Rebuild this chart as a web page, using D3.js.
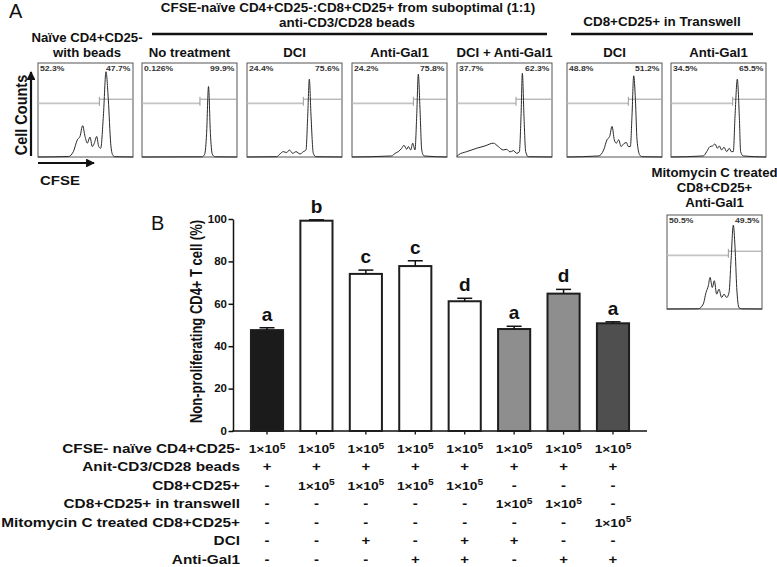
<!DOCTYPE html>
<html>
<head>
<meta charset="utf-8">
<script src="https://cdn.jsdelivr.net/npm/d3@7/dist/d3.min.js"></script>
<style>
html,body{margin:0;padding:0;background:#fff;}
svg{display:block;font-family:"Liberation Sans",Arial,Helvetica,sans-serif;}
</style>
</head>
<body>
<svg id="chart" width="777" height="567"></svg>
<script>
// ---------------- DATA ----------------
// Panel B bar chart
const barGroups = ["Naive + beads","No treatment","DCI","Anti-Gal1","DCI + Anti-Gal1","Transwell DCI","Transwell Anti-Gal1","Mitomycin C + Anti-Gal1"];
const barValues = [47.6, 99.2, 74.1, 77.8, 61.2, 48.1, 64.8, 50.8];
const barErrors = [1.1, 0.4, 1.8, 2.5, 1.4, 1.3, 2.0, 0.7];
const sigLetters = ["a","b","c","c","d","a","d","a"];
const yTicks = [0, 20, 40, 60, 80, 100];
const yLabel = "Non-proliferating CD4+ T cell (%)";

// Panel B condition table ("1e5" = 1×10^5)
const tableRowLabels = ["CFSE- naïve CD4+CD25-","Anit-CD3/CD28 beads","CD8+CD25+","CD8+CD25+ in transwell","Mitomycin C treated CD8+CD25+","DCI","Anti-Gal1"];
const rowNaive      = ["1e5","1e5","1e5","1e5","1e5","1e5","1e5","1e5"];
const rowBeads      = ["+","+","+","+","+","+","+","+"];
const rowCD8        = ["-","1e5","1e5","1e5","1e5","-","-","-"];
const rowTranswell  = ["-","-","-","-","-","1e5","1e5","-"];
const rowMitomycin  = ["-","-","-","-","-","-","-","1e5"];
const rowDCI        = ["-","-","+","-","+","+","-","-"];
const rowAntiGal1   = ["-","-","-","+","+","-","+","+"];
const tableRows = [rowNaive,rowBeads,rowCD8,rowTranswell,rowMitomycin,rowDCI,rowAntiGal1];

// Panel A histograms (CFSE channel 0-100, count 0-100 of panel)
const histTitles = [["Naïve CD4+CD25-","with beads"],["No treatment"],["DCI"],["Anti-Gal1"],["DCI + Anti-Gal1"],["DCI"],["Anti-Gal1"],["Mitomycin C treated","CD8+CD25+","Anti-Gal1"]];
const histLeftPct  = ["52.3%","0.126%","24.4%","24.2%","37.7%","48.8%","34.5%","50.5%"];
const histRightPct = ["47.7%","99.9%","75.6%","75.8%","62.3%","51.2%","65.5%","49.5%"];
const histGate = [64.6, 61.0, 59.3, 64.6, 62.1, 64.6, 64.9, 64.6];
const histNaive = [[0,0],[31.9,0.5],[37.2,5.7],[41.4,18.3],[44.2,21.9],[47,33.3],[49.5,21.9],[51.9,14.7],[54.7,21.2],[57.2,11.1],[59.3,14.7],[61.8,21.9],[63.9,11.1],[66,9.3],[68.8,43.4],[71.6,90.7],[74,61.3],[76.5,14.7],[78.6,2.2],[81,0.3],[100,0]];
const histNoTreat = [[0,0],[63,0.2],[66,3],[68,25],[70,75],[72,25],[74,3],[77,0.2],[100,0]];
const histDCI = [[0,0],[31.2,0.3],[34.7,3.2],[38.2,5.7],[41.8,4.7],[44.6,7.5],[48.1,3.9],[51.6,5.7],[55.8,3.2],[59.3,5.7],[62.1,7.5],[63.9,43.4],[65.6,82.8],[67.4,43.4],[69.8,3.9],[72.6,0.3],[100,0]];
const histGal1 = [[0,0],[41.8,1.1],[45.3,3.9],[48.7,5.7],[52.3,9.3],[54.7,12.5],[57.6,8.2],[59.3,11.1],[61.8,7.5],[63.9,14.7],[66.3,7.5],[68.1,43.4],[69.8,88.2],[71.6,50.5],[73.4,7.5],[75.8,1.1],[100,0]];
const histDCIGal1 = [[0,0.3],[1.4,2.2],[10.2,5.7],[20.7,9.3],[29.5,11.8],[38.2,14.7],[43.5,11.1],[48.7,7.5],[52.3,8.2],[55.8,5.4],[59.3,6.8],[62.8,3.9],[65.6,5.4],[67.4,43.4],[68.8,89.2],[70.5,43.4],[72.3,5.7],[75.1,0.3],[100,0]];
const histTwDCI = [[0,0],[33.3,1.1],[38.6,7.5],[42.1,18.3],[44.9,21.9],[47.4,32.6],[49.8,18.3],[51.9,14.7],[54.4,18.3],[56.9,11.1],[59.6,14],[62.5,15.4],[64.6,11.1],[66.7,11.1],[68.4,43.4],[70.2,86.4],[72,61.3],[73.7,18.3],[76.5,2.2],[79,0.3],[100,0]];
const histTwGal1 = [[0,0],[34,1.1],[37.6,5.7],[41,11.1],[43.9,11.8],[46.3,14],[48.8,9.3],[50.8,11.8],[53.3,7.5],[55.8,10.4],[58.6,5.7],[61.4,9.3],[63.5,5.7],[65.6,5.7],[67.4,43.4],[69.8,82.8],[71.9,43.4],[73.3,5.7],[76.1,1.1],[100,0]];
const histMitoGal1 = [[0,0],[32.9,0.2],[38.2,5.4],[41.1,17.6],[43.5,24.7],[45.3,33.6],[47.7,22.9],[49.8,30.1],[52.3,15.8],[54.7,21.1],[57.5,12.2],[60,15.8],[62.8,12.2],[65.3,17.6],[67.4,51.6],[69.8,89.2],[71.6,65.9],[73.4,22.9],[75.8,1.4],[78.6,0.2],[100,0]];
const histCurves = [histNaive,histNoTreat,histDCI,histGal1,histDCIGal1,histTwDCI,histTwGal1,histMitoGal1];

// ---------------- LAYOUT / STYLE ----------------
const barFill = ["#1b1b1b","#ffffff","#ffffff","#ffffff","#ffffff","#8e8e8e","#8e8e8e","#4f4f4f"];
const panelX = [38,142,247,352,457,567,671,667];
const panelY = [63,63,63,63,63,63,63,215];
const panelW = 95, panelH = 94;
const titleBase = [56.5,56.5,57,57,57,57,57,206.5];
const titleStep = 14.7;

const svg = d3.select("#chart");
const FONT = '"Liberation Sans",Arial,Helvetica,sans-serif';

function txt(parent, x, y, s, o) {
  o = o || {};
  const sx = o.sx || 1;
  let tr = `translate(${x},${y}) scale(${sx},1)`;
  if (o.rotate) tr += ` rotate(${o.rotate})`;
  return parent.append("text")
    .attr("transform", tr)
    .attr("font-family", FONT)
    .attr("font-size", o.size || 12)
    .attr("font-weight", o.weight || "bold")
    .attr("text-anchor", o.anchor || "start")
    .attr("fill", o.fill || "#111")
    .text(s);
}

// ---------- Panel A ----------
txt(svg, 9, 18, "A", {size: 20, weight: "normal"});
txt(svg, 348, 12, "CFSE-naïve CD4+CD25-:CD8+CD25+ from suboptimal (1:1)", {size: 12, sx: 1.12, anchor: "middle"});
txt(svg, 347, 26.5, "anti-CD3/CD28 beads", {size: 12, sx: 1.12, anchor: "middle"});
txt(svg, 662, 26, "CD8+CD25+ in Transwell", {size: 12, sx: 1.12, anchor: "middle"});
svg.append("line").attr("x1",152).attr("x2",547).attr("y1",34).attr("y2",34).attr("stroke","#111").attr("stroke-width",2.5);
svg.append("line").attr("x1",571).attr("x2",753).attr("y1",34).attr("y2",34).attr("stroke","#111").attr("stroke-width",2.5);

const hx = d3.scaleLinear().domain([0,100]).range([0,panelW]);
const hy = d3.scaleLinear().domain([0,100]).range([panelH,0]);
const hline = d3.line().x(d=>hx(d[0])).y(d=>hy(d[1])).curve(d3.curveMonotoneX);

histCurves.forEach((curve,i)=>{
  const g = svg.append("g").attr("transform",`translate(${panelX[i]},${panelY[i]})`);
  const lines = histTitles[i];
  lines.forEach((t,j)=>{
    const yy = titleBase[i] - (lines.length-1-j)*titleStep - panelY[i];
    txt(g, panelW/2 + (i===0?1.5:0), yy, t, {size: 12, sx: 1.1, anchor: "middle"});
  });
  g.append("rect").attr("x",0).attr("y",0).attr("width",panelW).attr("height",panelH)
    .attr("fill","#fff").attr("stroke","#555").attr("stroke-width",1);
  const gx = hx(histGate[i]);
  g.append("line").attr("x1",0.5).attr("x2",gx).attr("y1",hy(57)).attr("y2",hy(57))
    .attr("stroke","#c4c4c4").attr("stroke-width",1.6);
  g.append("line").attr("x1",gx).attr("x2",panelW-0.5).attr("y1",hy(61.5)).attr("y2",hy(61.5))
    .attr("stroke","#9a9a9a").attr("stroke-width",1);
  g.append("line").attr("x1",gx).attr("x2",gx).attr("y1",hy(54.5)).attr("y2",hy(64))
    .attr("stroke","#9a9a9a").attr("stroke-width",1);
  g.append("path").attr("d",hline(curve)).attr("fill","none").attr("stroke","#2a2a2a").attr("stroke-width",1);
  txt(g, 2, 8, histLeftPct[i], {size: 7.5, sx: 1.15, fill: "#333"});
  txt(g, panelW-2.5, 8, histRightPct[i], {size: 7.5, sx: 1.15, fill: "#333", anchor: "end"});
});

// axis arrows panel A
const defs = svg.append("defs");
defs.append("marker").attr("id","arr").attr("viewBox","0 0 10 10").attr("refX",9).attr("refY",5)
  .attr("markerWidth",4).attr("markerHeight",4).attr("orient","auto")
  .append("path").attr("d","M0,0L10,5L0,10z").attr("fill","#111");
svg.append("line").attr("x1",31).attr("x2",31).attr("y1",156).attr("y2",72)
  .attr("stroke","#111").attr("stroke-width",2.2).attr("marker-end","url(#arr)");
svg.append("line").attr("x1",38).attr("x2",94).attr("y1",163).attr("y2",163)
  .attr("stroke","#111").attr("stroke-width",2.2).attr("marker-end","url(#arr)");
txt(svg, 27, 115, "Cell Counts", {size: 14.5, sx: 1.2, rotate: -90, anchor: "middle"});
txt(svg, 40, 185, "CFSE", {size: 13, sx: 1.15});

// ---------- Panel B ----------
txt(svg, 151, 230, "B", {size: 20, weight: "normal"});

const x = d3.scaleBand().domain(d3.range(barValues.length)).range([242.3, 637.7])
  .paddingInner(0.35).paddingOuter(0.175);
const y = d3.scaleLinear().domain([0,100]).range([431,219]);
const axisX0 = 233, axisX1 = 647;

const gB = svg.append("g");
const yAxis = gB.append("g").attr("transform",`translate(${axisX0},0)`)
  .call(d3.axisLeft(y).tickValues(yTicks).tickSize(4.5).tickPadding(1.5).tickSizeOuter(0));
yAxis.select(".domain").attr("stroke","#111").attr("stroke-width",1.5);
yAxis.selectAll(".tick line").attr("stroke","#111").attr("stroke-width",1.5);
yAxis.selectAll(".tick text").attr("font-size",10).attr("font-weight","bold").attr("font-family",FONT).attr("fill","#111")
  .attr("transform","scale(1.15,1)").attr("x", function(){ return -6/1.15; });

const xAxis = gB.append("g").attr("transform",`translate(0,${y(0)})`)
  .call(d3.axisBottom(x).tickSize(3.5).tickFormat("").tickSizeOuter(0));
xAxis.select(".domain").remove();
xAxis.selectAll(".tick line").attr("stroke","#111").attr("stroke-width",1.3);
gB.append("line").attr("x1",axisX0-0.75).attr("x2",axisX1).attr("y1",y(0)).attr("y2",y(0))
  .attr("stroke","#111").attr("stroke-width",1.5);

gB.selectAll("rect.bar").data(barValues).join("rect").attr("class","bar")
  .attr("x",(d,i)=>x(i)).attr("width",x.bandwidth())
  .attr("y",d=>y(d)).attr("height",d=>y(0)-y(d))
  .attr("fill",(d,i)=>barFill[i]).attr("stroke","#1e1e1e").attr("stroke-width",2);

barValues.forEach((v,i)=>{
  const cx = x(i)+x.bandwidth()/2, top = y(v+barErrors[i]);
  gB.append("line").attr("x1",cx).attr("x2",cx).attr("y1",y(v)).attr("y2",top).attr("stroke","#111").attr("stroke-width",1.5);
  gB.append("line").attr("x1",cx-7.5).attr("x2",cx+7.5).attr("y1",top).attr("y2",top).attr("stroke","#111").attr("stroke-width",1.5);
  txt(gB, cx, top-7, sigLetters[i], {size: 19, anchor: "middle"});
});

txt(svg, 201.5, 321.5, yLabel, {size: 13, sx: 1.2, rotate: -90, anchor: "middle"});

// table
const rowBase0 = 453, rowStep = 18.45;
tableRowLabels.forEach((lab,r)=>{
  const yy = rowBase0 + r*rowStep;
  txt(svg, 240, yy, lab, {size: 12, sx: 1.28, anchor: "end"});
  tableRows[r].forEach((v,c)=>{
    const cx = x(c)+x.bandwidth()/2;
    if (v === "1e5") {
      const t = txt(svg, cx, yy, "", {size: 11.5, sx: 1.2, anchor: "middle"});
      t.append("tspan").text("1×10");
      t.append("tspan").attr("font-size", 8.5).attr("dy", -4.5).text("5");
    } else {
      txt(svg, cx, yy, v, {size: 12, sx: 1.25, anchor: "middle"});
    }
  });
});
</script>
</body>
</html>
